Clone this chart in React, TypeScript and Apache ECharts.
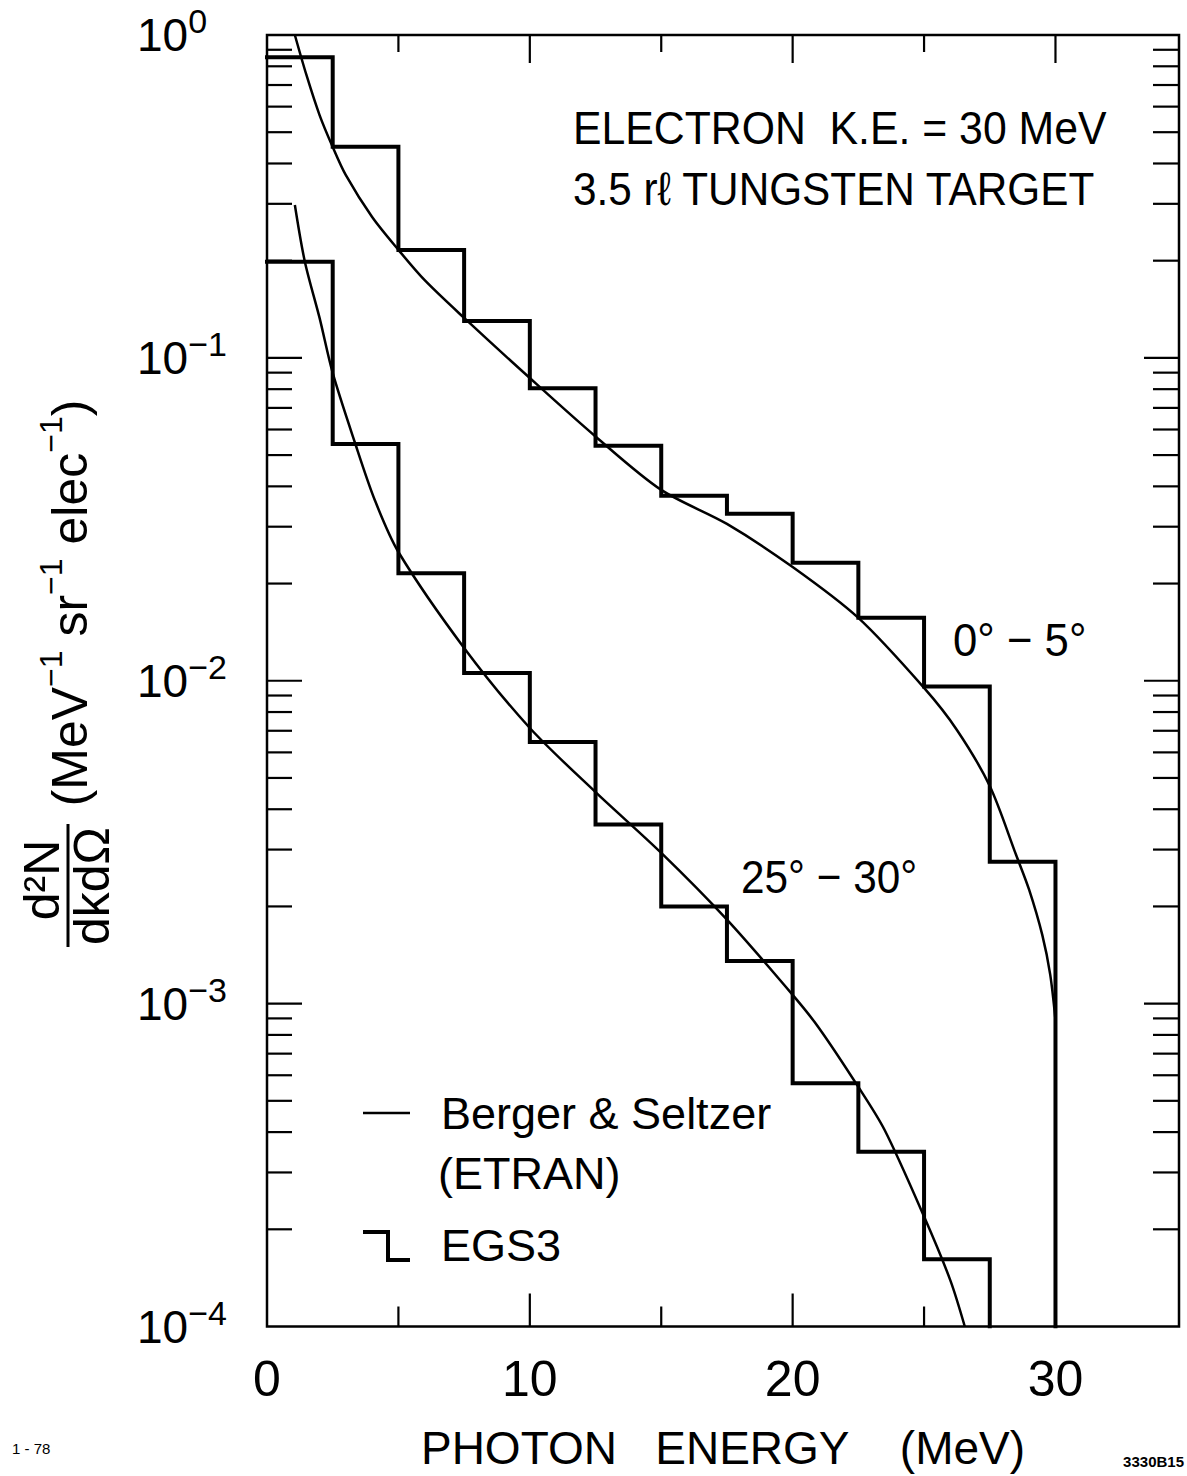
import React, { useEffect, useRef } from 'react';
import * as echarts from 'echarts';

const FONT = '"Liberation Sans", Arial, Helvetica, sans-serif';
const X_MAX = 34.7;
const Y_MIN = 1e-4;
const Y_MAX = 1;

// EGS3 histogram bin edges (MeV)
const binEdges = [0, 2.5, 5, 7.5, 10, 12.5, 15, 17.5, 20, 22.5, 25, 27.5, 30];
// EGS3, 0°-5° (12 bins, 0 - 30 MeV)
const egsForward = [0.853, 0.451, 0.216, 0.13, 0.0805, 0.0534, 0.0374, 0.0329, 0.0232, 0.01568, 0.00959, 0.00275];
// EGS3, 25°-30° (11 bins, 0 - 27.5 MeV)
const egsWide = [0.1986, 0.0541, 0.02154, 0.01057, 0.00646, 0.00359, 0.002, 0.001356, 0.000567, 0.000348, 0.0001616];

// Berger & Seltzer (ETRAN), 0°-5°
const etranForwardE = [1.06, 1.5, 2.0, 2.5, 3.0, 4.0, 5.0, 6.0, 7.5, 10, 12.5, 15, 17.5, 20, 22.5, 25, 26.25, 27.5, 28.5, 29.0, 29.5, 29.8, 30.0];
const etranForwardV = [1.0, 0.752, 0.565, 0.45, 0.368, 0.273, 0.216, 0.174, 0.133, 0.0866, 0.0571, 0.039, 0.0306, 0.0225, 0.01565, 0.0095, 0.00704, 0.00472, 0.00289, 0.00225, 0.00163, 0.00123, 0.00089];

// Berger & Seltzer (ETRAN), 25°-30°
const etranWideE = [1.06, 1.44, 2.0, 2.5, 3.35, 4.1, 5.0, 7.5, 10, 12.5, 15, 17.5, 20, 21, 22.5, 23.5, 25, 26, 26.55];
const etranWideV = [0.2975, 0.1986, 0.133, 0.0898, 0.0545, 0.0363, 0.02505, 0.01264, 0.00714, 0.00452, 0.00293, 0.00182, 0.001064, 0.000841, 0.000552, 0.000406, 0.000219, 0.000139, 0.0001];

// axis ticks
const xTickLabels = ['0', '10', '20', '30'];
const xMajorTicks = [10, 20, 30];
const xMinorTicks = [5, 15, 25];
const yMajorTicks = [0.1, 0.01, 0.001];
const yDecadeBases = [0.0001, 0.001, 0.01, 0.1];
const yMinorMantissas = [2, 3, 4, 5, 6, 7, 8, 9];
const yTickExponents = ['0', '−1', '−2', '−3', '−4'];

// tick kinds: 0 left major, 1 left minor, 2 right major, 3 right minor,
// 4 bottom major, 5 bottom minor, 6 top major, 7 top minor
const TICK_LEN = [35, 25, 35, 26, 33, 20, 28, 17];

function stepPoints(edges: number[], vals: number[], floor: number) {
  const pts: number[][] = [];
  for (let i = 0; i < vals.length; i++) {
    pts.push([edges[i], vals[i]]);
    pts.push([edges[i + 1], vals[i]]);
  }
  pts.push([edges[vals.length], floor]);
  return pts;
}

function zip(xs: number[], ys: number[]) {
  return xs.map((x, i) => [x, ys[i]]);
}

function buildTicks() {
  const t: number[][] = [];
  yMajorTicks.forEach((v) => {
    t.push([0, v, 0]);
    t.push([X_MAX, v, 2]);
  });
  yDecadeBases.forEach((b) =>
    yMinorMantissas.forEach((m) => {
      const v = b * m;
      t.push([0, v, 1]);
      t.push([X_MAX, v, 3]);
    })
  );
  xMajorTicks.forEach((x) => {
    t.push([x, Y_MIN, 4]);
    t.push([x, Y_MAX, 6]);
  });
  xMinorTicks.forEach((x) => {
    t.push([x, Y_MIN, 5]);
    t.push([x, Y_MAX, 7]);
  });
  return t;
}

const txt = (x: number, y: number, text: string, size: number, extra: any = {}, el: any = {}) => ({
  type: 'text',
  x,
  y,
  silent: true,
  ...el,
  style: {
    text,
    fill: '#000',
    fontSize: size,
    fontFamily: FONT,
    align: 'left',
    verticalAlign: 'middle',
    ...extra,
  },
});

export default function App() {
  const ref = useRef<HTMLDivElement>(null);

  useEffect(() => {
    if (!ref.current) return;
    const chart = echarts.init(ref.current, null, { renderer: 'svg' });

    const lineBlack = { color: '#000' };

    const option: any = {
      animation: false,
      backgroundColor: '#fff',
      textStyle: { fontFamily: FONT, color: '#000' },
      grid: {
        left: 267,
        top: 35,
        right: 8,
        bottom: 149.5,
        show: true,
        borderColor: '#000',
        borderWidth: 2.5,
        backgroundColor: 'transparent',
        containLabel: false,
        outerBoundsMode: 'none',
      },
      xAxis: {
        type: 'value',
        min: 0,
        max: X_MAX,
        interval: 10,
        position: 'bottom',
        axisLine: { show: false },
        axisTick: { show: false },
        splitLine: { show: false },
        axisLabel: {
          fontSize: 50,
          fontFamily: FONT,
          color: '#000',
          margin: 27,
          formatter: (v: number) => {
            const i = Math.round(v / 10);
            return Math.abs(v - i * 10) < 1e-6 && i < xTickLabels.length ? xTickLabels[i] : '';
          },
        },
        name: 'PHOTON   ENERGY    (MeV)',
        nameLocation: 'middle',
        nameGap: 98,
        nameTextStyle: { fontSize: 46, fontFamily: FONT, color: '#000' },
      },
      yAxis: {
        type: 'log',
        logBase: 10,
        min: Y_MIN,
        max: Y_MAX,
        position: 'left',
        axisLine: { show: false },
        axisTick: { show: false },
        splitLine: { show: false },
        axisLabel: {
          align: 'left',
          margin: 130,
          color: '#000',
          formatter: (v: number) => {
            const e = Math.round(-Math.log10(v));
            return `{b|10}{s|${yTickExponents[e] ?? ''}}`;
          },
          rich: {
            b: { fontSize: 46, lineHeight: 46, fontFamily: FONT, color: '#000', verticalAlign: 'bottom' },
            s: { fontSize: 34, lineHeight: 34, fontFamily: FONT, color: '#000', verticalAlign: 'bottom', padding: [0, 0, 20, 0] },
          },
        },
      },
      series: [
        {
          type: 'line',
          name: 'ETRAN 0-5',
          data: zip(etranForwardE, etranForwardV),
          smooth: 0.3,
          symbol: 'none',
          lineStyle: { ...lineBlack, width: 2.5 },
          z: 3,
        },
        {
          type: 'line',
          name: 'ETRAN 25-30',
          data: zip(etranWideE, etranWideV),
          smooth: 0.3,
          symbol: 'none',
          lineStyle: { ...lineBlack, width: 2.5 },
          z: 3,
        },
        {
          type: 'line',
          name: 'EGS3 0-5',
          data: stepPoints(binEdges, egsForward, Y_MIN),
          symbol: 'none',
          lineStyle: { ...lineBlack, width: 4, join: 'miter', cap: 'square' },
          z: 4,
        },
        {
          type: 'line',
          name: 'EGS3 25-30',
          data: stepPoints(binEdges, egsWide, Y_MIN),
          symbol: 'none',
          lineStyle: { ...lineBlack, width: 4, join: 'miter', cap: 'square' },
          z: 4,
        },
        {
          type: 'custom',
          name: 'ticks',
          data: buildTicks(),
          encode: { x: 0, y: 1 },
          silent: true,
          clip: false,
          z: 5,
          renderItem: (_params: any, api: any) => {
            const k = api.value(2);
            const p = api.coord([api.value(0), api.value(1)]);
            const L = TICK_LEN[k];
            let x2 = p[0];
            let y2 = p[1];
            if (k < 2) x2 += L;
            else if (k < 4) x2 -= L;
            else if (k < 6) y2 -= L;
            else y2 += L;
            return {
              type: 'line',
              shape: { x1: p[0], y1: p[1], x2, y2 },
              style: { stroke: '#000', lineWidth: 2.2 },
            };
          },
        },
      ],
      graphic: [
        // y-axis title (rotated)
        {
          type: 'group',
          x: 68,
          y: 880,
          rotation: Math.PI / 2,
          silent: true,
          children: [
            { type: 'line', shape: { x1: -67, y1: 0, x2: 56, y2: 0 }, style: { stroke: '#000', lineWidth: 3 } },
            txt(0, -26, 'd²N', 50, { align: 'center' }),
            txt(-6, 24, 'dkdΩ', 50, { align: 'center' }),
            {
              type: 'text',
              x: 277,
              y: -1,
              style: {
                text: '{n|(MeV}{s|−1}{n| sr}{s|−1}{n| elec}{s|−1}{n|)}',
                fill: '#000',
                align: 'center',
                verticalAlign: 'middle',
                rich: {
                  n: { fontSize: 50, lineHeight: 56, fontFamily: FONT, fill: '#000', verticalAlign: 'bottom' },
                  s: { fontSize: 32, lineHeight: 32, fontFamily: FONT, fill: '#000', verticalAlign: 'bottom', padding: [0, 0, 28, 0] },
                },
              },
            },
          ],
        },
        // annotation
        txt(573, 128, 'ELECTRON  K.E. = 30 MeV', 47, {}, { scaleX: 0.91 }),
        txt(573, 189, '3.5 rℓ TUNGSTEN TARGET', 47, {}, { scaleX: 0.9 }),
        txt(953, 640, '0° − 5°', 47, {}, { scaleX: 0.93 }),
        txt(741, 877, '25° − 30°', 47, {}, { scaleX: 0.9 }),
        // legend
        { type: 'line', silent: true, shape: { x1: 363, y1: 1113, x2: 410, y2: 1113 }, style: { stroke: '#000', lineWidth: 2.5 } },
        txt(441, 1113, 'Berger & Seltzer', 45),
        txt(438, 1173, '(ETRAN)', 45),
        {
          type: 'polyline',
          silent: true,
          shape: { points: [[363, 1232], [388, 1232], [388, 1260], [410, 1260]] },
          style: { stroke: '#000', lineWidth: 4, fill: 'none', lineJoin: 'miter' },
        },
        txt(441, 1245, 'EGS3', 45),
        // corner marks
        txt(12, 1448, '1 - 78', 15),
        txt(1184, 1461, '3330B15', 15, { align: 'right', fontWeight: 'bold' }),
      ],
    };

    chart.setOption(option);
    return () => chart.dispose();
  }, []);

  return (
    <div
      ref={ref}
      style={{ position: 'absolute', left: 0, top: 0, width: 1187, height: 1476, background: '#fff' }}
    />
  );
}
